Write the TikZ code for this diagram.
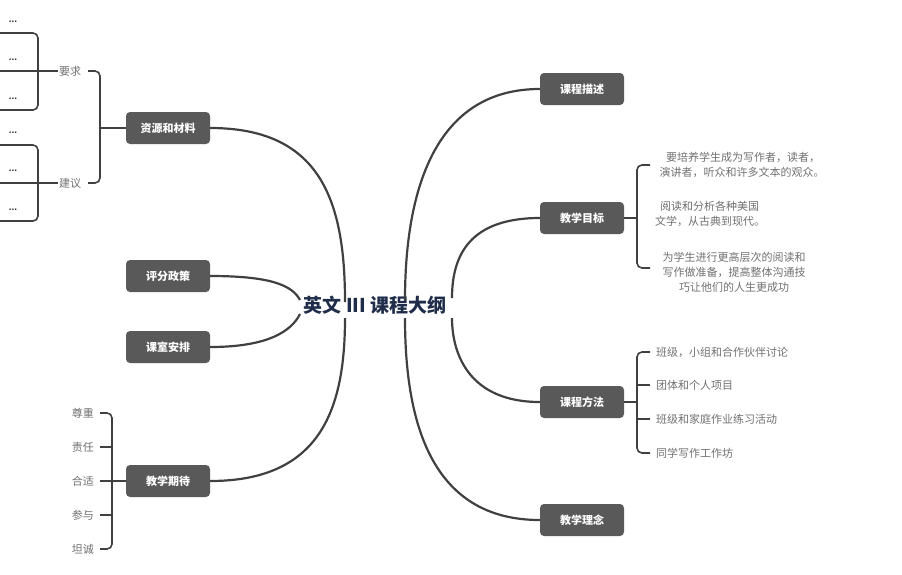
\documentclass[tikz,border=0pt]{standalone}
\usepackage{fontspec}
\setmainfont{Liberation Sans}
\newfontfamily\cjk{Noto Sans CJK SC}
\begin{document}
\begin{tikzpicture}[x=1pt,y=-1pt,
  mainbox/.style={fill=boxgray,rounded corners=4pt,minimum width=84pt,minimum height=32pt,text=white,font=\cjk\bfseries\fontsize{11}{13}\selectfont},
  leaf/.style={text=leafgray,font=\cjk\fontsize{11}{15}\selectfont,inner sep=1pt},
  dots/.style={font=\bfseries\fontsize{10}{12}\selectfont,text=black!80},
  conn/.style={draw=linegray,line width=2.2pt},
  brk/.style={draw=linegray,line width=1.6pt,rounded corners=5pt}]
\definecolor{boxgray}{HTML}{595959}
\definecolor{linegray}{HTML}{404040}
\definecolor{leafgray}{HTML}{707070}
\definecolor{navy}{HTML}{1F2D4A}
\useasboundingbox (0,0) rectangle (902,574);
\node[font=\cjk\bfseries\fontsize{19}{22}\selectfont,text=navy] (c) at (375,305) {英文 III 课程大纲};
\coordinate (cl) at (345,305); \coordinate (cr) at (405,305);
% left boxes
\node[mainbox] (zy) at (168,128) {资源和材料};
\node[mainbox] (pf) at (168,276) {评分政策};
\node[mainbox] (ks) at (168,347) {课室安排};
\node[mainbox] (qd) at (168,481) {教学期待};
% right boxes
\node[mainbox] (ms) at (582,89) {课程描述};
\node[mainbox] (mb) at (582,218) {教学目标};
\node[mainbox] (ff) at (582,402) {课程方法};
\node[mainbox] (ln) at (582,520) {教学理念};
% connectors
\draw[conn] (zy.east) .. controls (320,128) and (345,200) .. (345,302);
\draw[conn] (pf.east) .. controls (270,276) and (292,285) .. (300,300);
\draw[conn] (ks.east) .. controls (270,347) and (292,330) .. (300,314);
\draw[conn] (qd.east) .. controls (320,481) and (345,410) .. (345,318);
\draw[conn] (ms.west) .. controls (430,89) and (405,200) .. (405,300);
\draw[conn] (mb.west) .. controls (470,218) and (452,255) .. (452,298);
\draw[conn] (ff.west) .. controls (470,402) and (452,355) .. (452,318);
\draw[conn] (ln.west) .. controls (430,520) and (405,420) .. (405,318);
% 教学目标 bracket
\coordinate (mbb) at (637,218);
\draw[brk] (mb.east) -- (mbb);
\draw[brk] (650,165) -- (637,165) -- (637,268) -- (650,268);
\node[leaf,align=center] (m1) at (742,165) {\ 要培养学生成为写作者，读者，\\演讲者，听众和许多文本的观众。};
\node[leaf,align=left,anchor=west] (m2) at (654,214) {\ \ 阅读和分析各种美国\\文学，从古典到现代。};
\node[leaf,align=center] (m3) at (734,272) {为学生进行更高层次的阅读和\\写作做准备，提高整体沟通技\\巧让他们的人生更成功};
% 课程方法 bracket
\coordinate (ffb) at (637,402);
\draw[brk] (ff.east) -- (ffb);
\draw[brk] (650,352) -- (637,352) -- (637,453) -- (650,453);
\draw[brk] (637,385) -- (650,385);
\draw[brk] (637,419) -- (650,419);
\node[leaf,anchor=west] (f1) at (655,352) {班级，小组和合作伙伴讨论};
\node[leaf,anchor=west] (f2) at (655,385) {团体和个人项目};
\node[leaf,anchor=west] (f3) at (655,419) {班级和家庭作业练习活动};
\node[leaf,anchor=west] (f4) at (655,453) {同学写作工作坊};
% 教学期待 bracket
\coordinate (qdb) at (112,481);
\draw[brk] (qd.west) -- (qdb);
\draw[brk] (100,413) -- (112,413) -- (112,549) -- (100,549);
\draw[brk] (112,447) -- (100,447);
\draw[brk] (112,481) -- (100,481);
\draw[brk] (112,515) -- (100,515);
\node[leaf,anchor=east] (q1) at (95,413) {尊重};
\node[leaf,anchor=east] (q2) at (95,447) {责任};
\node[leaf,anchor=east] (q3) at (95,481) {合适};
\node[leaf,anchor=east] (q4) at (95,515) {参与};
\node[leaf,anchor=east] (q5) at (95,549) {坦诚};
% 资源 bracket
\coordinate (zyb) at (100,128);
\draw[brk] (zy.west) -- (zyb);
\draw[brk] (88,71) -- (100,71) -- (100,183) -- (88,183);
\node[leaf] (yq) at (70,71) {要求};
\node[leaf] (jy) at (70,183) {建议};
\draw[brk] (yq.west) -- (0,71);
\draw[brk] (jy.west) -- (0,183);
\draw[brk] (0,33) -- (38,33) -- (38,110) -- (0,110);
\draw[brk] (0,145) -- (38,145) -- (38,221) -- (0,221);
\foreach \y/\n in {22/a,60/b,99/c,133/d,171/e,210/f}
  \node[dots] (d\n) at (13,\y) {...};
\end{tikzpicture}
\end{document}
